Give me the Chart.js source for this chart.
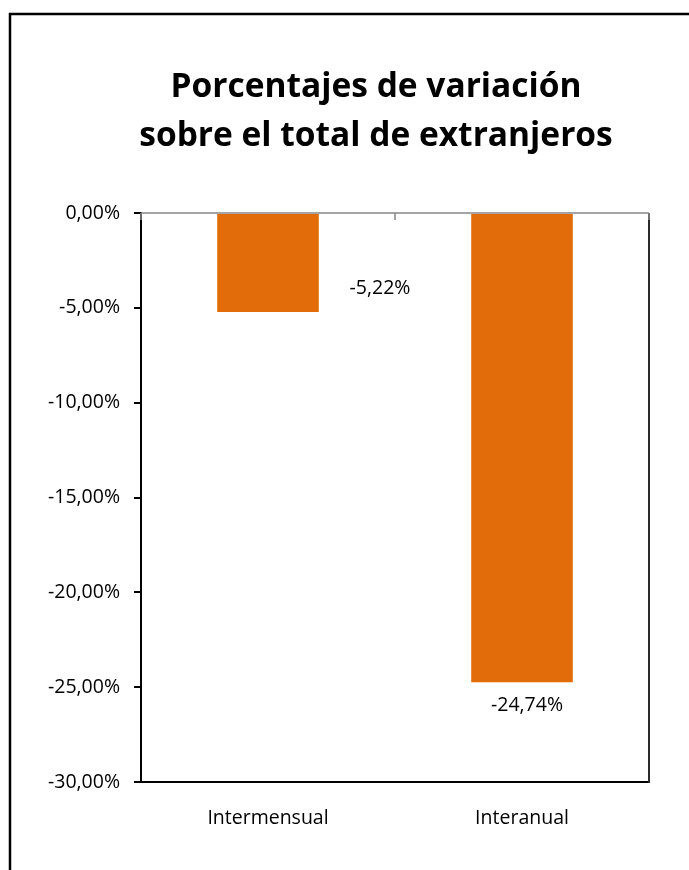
<!DOCTYPE html>
<html>
<head>
<meta charset="utf-8">
<script src="https://cdn.jsdelivr.net/npm/chart.js"></script>
<style>
  html, body { margin: 0; padding: 0; background: #fff; }
  #wrap { width: 689px; height: 870px; position: relative; }
</style>
</head>
<body>
<div id="wrap"><canvas id="var-chart" width="689" height="870"></canvas></div>
<script>
/* ==========================
   Data
========================== */
const categories = ['Intermensual', 'Interanual'];
const variationPct = [-5.22, -24.74];
const titleLines = ['Porcentajes de variación', 'sobre el total de extranjeros'];
const yMin = -30;
const yMax = 0;
const yStep = 5;

const FONT = "'Open Sans', 'Noto Sans', sans-serif";
const LABEL_SIZE = 19.5;
const BAR_COLOR = '#e36c0a';

// 1.234 -> "1,23%"
function fmtPct(v) {
  return v.toFixed(2).replace('.', ',') + '%';
}

/* ==========================
   Plugins
========================== */
// white page, frame and title
const frameTitle = {
  id: 'frameTitle',
  beforeDraw(chart) {
    const ctx = chart.ctx;
    ctx.save();
    ctx.fillStyle = '#fff';
    ctx.fillRect(0, 0, chart.width, chart.height);
    ctx.strokeStyle = '#000';
    ctx.lineWidth = 2.5;
    ctx.strokeRect(10, 14, chart.width + 20, chart.height + 20);
    ctx.fillStyle = '#000';
    ctx.font = "bold 33.5px " + FONT;
    ctx.textAlign = 'center';
    ctx.textBaseline = 'alphabetic';
    ctx.fillText(titleLines[0], 376, 97);
    ctx.fillText(titleLines[1], 376, 146);
    ctx.restore();
  }
};

// zero line with inward ticks, right border of plot area
const plotFrame = {
  id: 'plotFrame',
  afterDraw(chart) {
    const ctx = chart.ctx;
    const a = chart.chartArea;
    const y0 = chart.scales.y.getPixelForValue(0);
    ctx.save();
    ctx.strokeStyle = '#2b2b2b';
    ctx.lineWidth = 2;
    ctx.beginPath();
    ctx.moveTo(a.right, a.top);
    ctx.lineTo(a.right, a.bottom + 1);
    ctx.stroke();

    ctx.strokeStyle = '#868686';
    ctx.lineWidth = 1.5;
    ctx.beginPath();
    ctx.moveTo(a.left, y0);
    ctx.lineTo(a.right, y0);
    const n = categories.length;
    for (let i = 0; i <= n; i++) {
      const px = a.left + (a.right - a.left) * i / n;
      ctx.moveTo(px, y0);
      ctx.lineTo(px, y0 + 7);
    }
    ctx.stroke();
    ctx.restore();
  }
};

// value labels next to each bar
const valueLabels = {
  id: 'valueLabels',
  afterDatasetsDraw(chart, args, opts) {
    const ctx = chart.ctx;
    const meta = chart.getDatasetMeta(0);
    ctx.save();
    ctx.fillStyle = '#000';
    ctx.font = LABEL_SIZE + "px " + FONT;
    ctx.textAlign = 'center';
    ctx.textBaseline = 'middle';
    meta.data.forEach((bar, i) => {
      const v = chart.data.datasets[0].data[i];
      const off = opts.offsets[i];
      ctx.fillText(fmtPct(v), bar.x + off[0], bar.y + off[1]);
    });
    ctx.restore();
  }
};

/* ==========================
   Chart
========================== */
const ctx = document.getElementById('var-chart').getContext('2d');
const varChart = new Chart(ctx, {
  type: 'bar',
  data: {
    labels: categories,
    datasets: [{
      data: variationPct,
      backgroundColor: BAR_COLOR,
      borderWidth: 0,
      categoryPercentage: 1,
      barPercentage: 0.4
    }]
  },
  plugins: [frameTitle, plotFrame, valueLabels],
  options: {
    responsive: false,
    animation: false,
    layout: { padding: { top: 213, right: 40, bottom: 0, left: 0 } },
    plugins: {
      legend: { display: false },
      title: { display: false },
      tooltip: { enabled: false },
      valueLabels: { offsets: [[112, -24], [5, 23]] }
    },
    scales: {
      x: {
        grid: { display: false },
        border: { color: '#000', width: 2 },
        ticks: { color: '#000', font: { family: FONT, size: LABEL_SIZE }, padding: 17 },
        afterFit(scale) { scale.height = 88; }
      },
      y: {
        min: yMin,
        max: yMax,
        ticks: {
          stepSize: yStep,
          color: '#000',
          font: { family: FONT, size: LABEL_SIZE },
          padding: 14,
          callback: (v) => fmtPct(v)
        },
        grid: { drawOnChartArea: false, drawTicks: true, tickLength: 7, color: '#000', lineWidth: 2 },
        border: { color: '#000', width: 2 },
        afterFit(scale) { scale.width = 141; }
      }
    }
  }
});
</script>
</body>
</html>
